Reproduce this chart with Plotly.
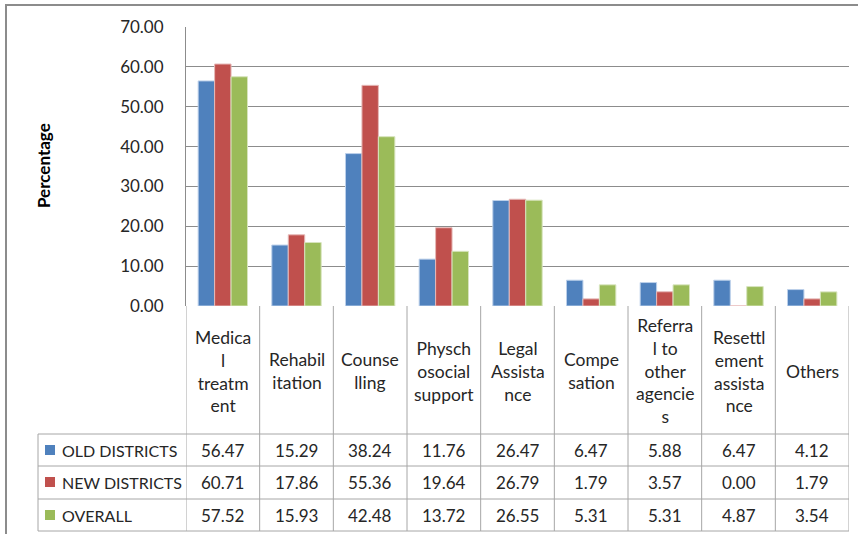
import plotly.graph_objects as go

categories = ["Medical treatment", "Rehabilitation", "Counselling", "Physchosocial support",
              "Legal Assistance", "Compesation", "Referral to other agencies",
              "Resettlement assistance", "Others"]
category_labels = ["Medica<br>l<br>treatm<br>ent", "Rehabil<br>itation", "Counse<br>lling",
                   "Physch<br>osocial<br>support", "Legal<br>Assista<br>nce", "Compe<br>sation",
                   "Referra<br>l to<br>other<br>agencie<br>s", "Resettl<br>ement<br>assista<br>nce",
                   "Others"]
series_names = ["OLD DISTRICTS", "NEW DISTRICTS", "OVERALL"]
old_districts = [56.47, 15.29, 38.24, 11.76, 26.47, 6.47, 5.88, 6.47, 4.12]
new_districts = [60.71, 17.86, 55.36, 19.64, 26.79, 1.79, 3.57, 0.00, 1.79]
overall = [57.52, 15.93, 42.48, 13.72, 26.55, 5.31, 5.31, 4.87, 3.54]
y_ticks = [0, 10, 20, 30, 40, 50, 60, 70]

series_values = [old_districts, new_districts, overall]
colors = ["#4F81BD", "#C0504D", "#9BBB59"]
edge_colors = ["#bcd0ea", "#e6b9b8", "#d7e4bd"]

W, H = 858, 534
L, R, T, B = 186, 849, 27, 306
FONT = "Lato"
TXT = "#262626"
GRID = "#8c8c8c"
TLINE = "#a6a6a6"


def xp(px):
    return (px - L) / (R - L)


def yp(py):
    return (B - py) / (B - T)


fig = go.Figure()
for name, vals, c, ec in zip(series_names, series_values, colors, edge_colors):
    fig.add_trace(go.Bar(x=categories, y=vals, name=name, marker_color=c,
                         marker_line_color=ec, marker_line_width=1))

shapes = []
annotations = []

# outer frame
shapes.append(dict(type="rect", xref="paper", yref="paper", x0=xp(6), x1=xp(900),
                   y0=yp(600), y1=yp(5), line=dict(color="#8c8c8c", width=2)))

# table rows
row_lines = [434, 466, 499, 531]
for py in row_lines:
    shapes.append(dict(type="line", xref="paper", yref="paper", x0=xp(38), x1=1,
                       y0=yp(py), y1=yp(py), line=dict(color=TLINE, width=1)))
# legend column left border
shapes.append(dict(type="line", xref="paper", yref="paper", x0=xp(38), x1=xp(38),
                   y0=yp(434), y1=yp(531), line=dict(color=TLINE, width=1)))
# category column borders
n = len(categories)
for i in range(n + 1):
    shapes.append(dict(type="line", xref="x", yref="paper", x0=i - 0.5, x1=i - 0.5,
                       y0=yp(B), y1=yp(531), line=dict(color=TLINE, width=1)))

# category header labels
for i, lab in enumerate(category_labels):
    annotations.append(dict(x=i, y=yp(371), xref="x", yref="paper", text=lab,
                            showarrow=False, xanchor="center", yanchor="middle",
                            align="center", font=dict(family=FONT, size=17.5, color=TXT)))

# data rows
row_centers = [450, 482, 515]
for name, vals, c, yc in zip(series_names, series_values, colors, row_centers):
    shapes.append(dict(type="rect", xref="paper", yref="paper", x0=xp(45), x1=xp(55),
                       y0=yp(yc + 5), y1=yp(yc - 5), fillcolor=c, line=dict(width=0)))
    annotations.append(dict(x=xp(60), y=yp(yc), xref="paper", yref="paper", text=name,
                            showarrow=False, xanchor="left", yanchor="middle",
                            font=dict(family=FONT, size=16, color=TXT)))
    for i, v in enumerate(vals):
        annotations.append(dict(x=i, y=yp(yc), xref="x", yref="paper", text=f"{v:.2f}",
                                showarrow=False, xanchor="center", yanchor="middle",
                                font=dict(family=FONT, size=17, color=TXT)))

# y axis title
annotations.append(dict(x=xp(43), y=yp(166), xref="paper", yref="paper", text="<b>Percentage</b>",
                        textangle=-90, showarrow=False, xanchor="center", yanchor="middle",
                        font=dict(family=FONT, size=17, color="#000000")))

fig.update_layout(
    width=W, height=H,
    margin=dict(l=L, r=W - R, t=T, b=H - B, autoexpand=False),
    paper_bgcolor="white", plot_bgcolor="white",
    barmode="group", bargap=0.33, bargroupgap=0,
    showlegend=False,
    shapes=shapes, annotations=annotations,
    font=dict(family=FONT, color=TXT),
)
fig.update_xaxes(showticklabels=False, showgrid=False, showline=False, zeroline=False,
                 range=[-0.5, n - 0.5], fixedrange=True)
fig.update_yaxes(range=[0, 70], tickvals=y_ticks, ticktext=[f"{v:.2f}" for v in y_ticks],
                 showgrid=True, gridcolor=GRID, gridwidth=1, zeroline=False,
                 showline=True, linecolor=GRID, linewidth=1, ticks="",
                 ticklabelstandoff=18, tickfont=dict(family=FONT, size=17, color=TXT),
                 automargin=False)

fig.write_html("out.html", config={"displayModeBar": False},
               post_script="document.body.style.margin='0';document.body.style.padding='0';"
                           "document.body.style.overflow='hidden';")
